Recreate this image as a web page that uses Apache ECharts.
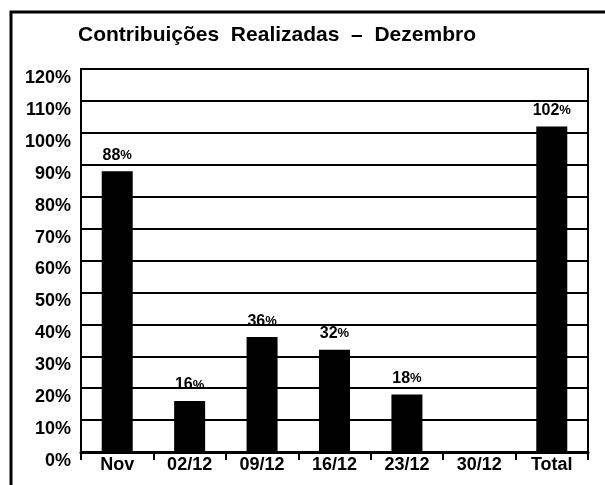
<!DOCTYPE html>
<html>
<head>
<meta charset="utf-8">
<script src="https://cdn.jsdelivr.net/npm/echarts@6/dist/echarts.min.js"></script>
<style>
  html, body { margin: 0; padding: 0; background: #fff; }
  #chart { width: 605px; height: 485px; }
</style>
</head>
<body>
<div id="chart"></div>
<script>
// categorias e valores (%)
var categories = ['Nov', '02/12', '09/12', '16/12', '23/12', '30/12', 'Total']
var values = [88, 16, 36, 32, 18, null, 102]
var yTicks = [0, 10, 20, 30, 40, 50, 60, 70, 80, 90, 100, 110, 120]

var font = '"Liberation Sans", Arial, sans-serif'
var chart = echarts.init(document.getElementById('chart'))

var option = {
  backgroundColor: '#fff',
  animation: false,
  title: {
    text: 'Contribuições  Realizadas  –  Dezembro',
    left: 272,
    textAlign: 'center',
    top: 20,
    textStyle: { fontFamily: font, fontWeight: 'bold', fontSize: 21, color: '#000' }
  },
  // moldura externa
  graphic: [{
    type: 'polyline',
    shape: { points: [[11, 495], [11, 12], [615, 12]] },
    style: { stroke: '#000', lineWidth: 3, fill: null }
  }],
  grid: {
    left: 81, right: 17, top: 69, bottom: 33,
    show: true, borderColor: '#000', borderWidth: 2
  },
  xAxis: {
    type: 'category',
    data: categories,
    axisLine: { lineStyle: { color: '#000', width: 3 } },
    axisTick: { show: true, length: 8, inside: false, lineStyle: { color: '#000', width: 2 } },
    axisLabel: {
      margin: 4,
      fontFamily: font, fontWeight: 'bold', fontSize: 18, color: '#000'
    }
  },
  yAxis: {
    type: 'value',
    min: yTicks[0],
    max: yTicks[yTicks.length - 1],
    interval: 10,
    axisLine: { show: true, lineStyle: { color: '#000', width: 2 } },
    axisTick: { show: false },
    splitLine: { show: true, lineStyle: { color: '#000', width: 2 } },
    axisLabel: {
      margin: 10,
      verticalAlign: 'top',
      formatter: '{value}%',
      fontFamily: font, fontWeight: 'bold', fontSize: 18, color: '#000'
    }
  },
  series: [{
    type: 'bar',
    data: values,
    barWidth: 31,
    itemStyle: { color: '#000' },
    label: {
      show: true,
      position: 'top',
      distance: 8,
      formatter: function (p) { return '{n|' + p.value + '}{p|%}' },
      rich: {
        n: { fontFamily: font, fontWeight: 'bold', fontSize: 16, color: '#000' },
        p: { fontFamily: font, fontWeight: 'bold', fontSize: 13, color: '#000' }
      }
    }
  }]
}

chart.setOption(option)
</script>
</body>
</html>
